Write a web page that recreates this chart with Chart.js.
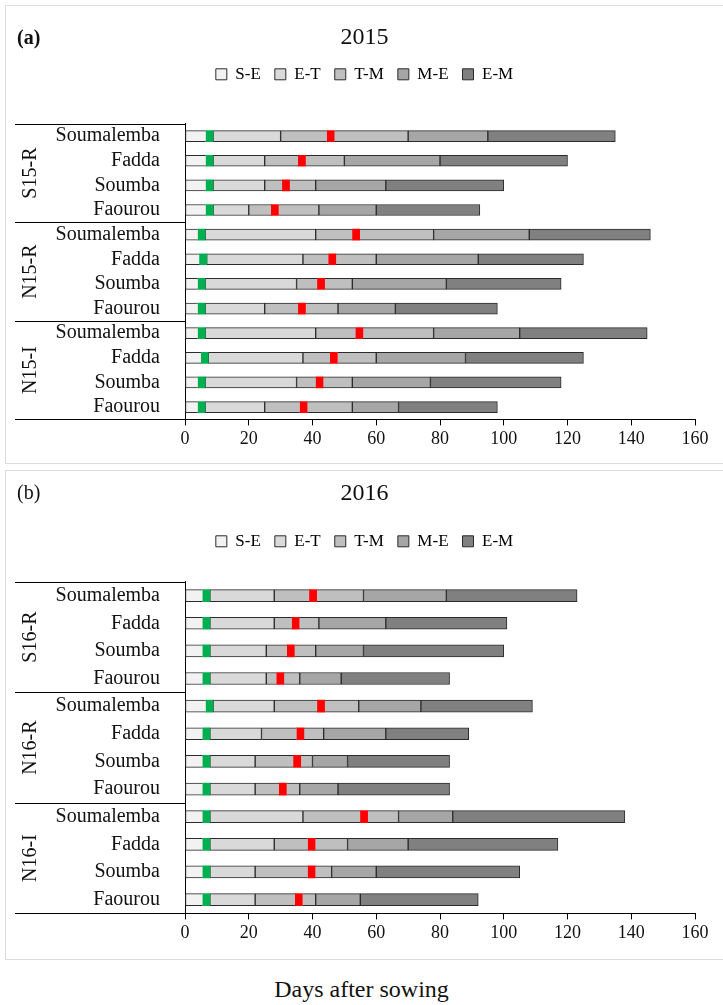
<!DOCTYPE html>
<html>
<head>
<meta charset="utf-8">
<script src="https://cdn.jsdelivr.net/npm/chart.js@4.4.1/dist/chart.umd.min.js"></script>
<style>
  body { margin: 0; background: #fff; width: 723px; height: 1005px; position: relative; overflow: hidden;
         font-family: 'Liberation Serif', serif; color: #111; }
  .panel { position: absolute; left: 5px; width: 718px; border: 1px solid #dcdcdc; border-right: none; }
  #panelA { top: 5px; height: 457px; }
  #panelB { top: 470px; height: 488px; }
  .panel canvas { position: absolute; left: 0; top: 0; }
  .tag { position: absolute; left: 11px; font-size: 20px; }
  #xTitle { position: absolute; top: 976px; left: 0; width: 723px; text-align: center; font-size: 24px; }
</style>
</head>
<body>
<div class="panel" id="panelA">
  <canvas id="chart2015" width="717" height="457"></canvas>
  <div class="tag" style="top:20px;font-weight:bold">(a)</div>
</div>
<div class="panel" id="panelB">
  <canvas id="chart2016" width="717" height="488"></canvas>
  <div class="tag" style="top:10px">(b)</div>
</div>
<div id="xTitle">Days after sowing</div>

<script>
// width of the green (emergence) and red markers, in days
const MARK = 2.3;

const sites = ['Soumalemba', 'Fadda', 'Soumba', 'Faourou'];
const phases = ['S-E', 'E-T', 'T-M', 'M-E', 'E-M'];
const phaseColors = ['#f2f2f2', '#d9d9d9', '#bfbfbf', '#a6a6a6', '#808080'];
const dayTicks = [0, 20, 40, 60, 80, 100, 120, 140, 160];

// 2015 - phase durations (days), red marker day
const groups2015 = ['S15-R', 'N15-R', 'N15-I'];
const se2015 = [6.5, 6.5, 6.5, 6.5, 4, 4.5, 4, 4, 4, 5, 4, 4];
const et2015 = [23.5, 18.5, 18.5, 13.5, 37, 32.5, 31, 21, 37, 32, 31, 21];
const tm2015 = [40, 25, 16, 22, 37, 23, 17.5, 23, 37, 23, 17.5, 27.5];
const me2015 = [25, 30, 22, 18, 30, 32, 29.5, 18, 27, 28, 24.5, 14.5];
const em2015 = [40, 40, 37, 32.5, 38, 33, 36, 32, 40, 37, 41, 31];
const red2015 = [44.5, 35.5, 30.5, 27, 52.5, 45, 41.5, 35.5, 53.5, 45.5, 41, 36];

// 2016
const groups2016 = ['S16-R', 'N16-R', 'N16-I'];
const se2016 = [5.5, 5.5, 5.5, 5.5, 6.5, 5.5, 5.5, 5.5, 5.5, 5.5, 5.5, 5.5];
const et2016 = [22.5, 22.5, 20, 20, 21.5, 18.5, 16.5, 16.5, 31.5, 22.5, 16.5, 16.5];
const tm2016 = [28, 14, 15.5, 10.5, 26.5, 19.5, 18, 14, 30, 23, 24, 19];
const me2016 = [26, 21, 15, 13, 19.5, 19.5, 11, 12, 17, 19, 14, 14];
const em2016 = [41, 38, 44, 34, 35, 26, 32, 35, 54, 47, 45, 37];
const red2016 = [39, 33.5, 32, 28.7, 41.5, 35, 34, 29.5, 55, 38.5, 38.5, 34.5];

Chart.defaults.font.family = "'Liberation Serif', serif";
Chart.defaults.color = '#111';

// push the plot area down below the legend
function legendGap(gap) {
  return {
    id: 'legendGap',
    beforeInit(chart) {
      const fit = chart.legend.fit;
      chart.legend.fit = function () {
        fit.call(this);
        this.height += gap;
      };
    }
  };
}

// group brackets + rotated group names left of the site labels
function groupBrackets(groups) {
  return {
    id: 'groupBrackets',
    afterDraw(chart) {
      const { ctx, chartArea, scales: { y } } = chart;
      const per = sites.length;
      const step = y.getPixelForValue(1) - y.getPixelForValue(0);
      const x0 = 9;
      ctx.save();
      ctx.strokeStyle = '#000';
      ctx.lineWidth = 1;
      ctx.fillStyle = '#111';
      ctx.font = "20px 'Liberation Serif'";
      ctx.textAlign = 'center';
      ctx.textBaseline = 'middle';
      groups.forEach((g, gi) => {
        const top = y.getPixelForValue(gi * per) - step / 2;
        const bottom = y.getPixelForValue(gi * per + per - 1) + step / 2;
        [top, bottom].forEach(py => {
          const yy = Math.round(py) + 0.5;
          ctx.beginPath();
          ctx.moveTo(x0, yy);
          ctx.lineTo(chartArea.left, yy);
          ctx.stroke();
        });
        ctx.save();
        ctx.translate(25, (top + bottom) / 2);
        ctx.rotate(-Math.PI / 2);
        ctx.fillText(g, 0, 0);
        ctx.restore();
      });
      ctx.restore();
    }
  };
}

function makeChart(id, year, groups, se, et, tm, me, em, red, lay) {
  const labels = groups.flatMap(() => sites);
  const mark = labels.map(() => MARK);
  const etRest = et.map(v => v - MARK);
  const tmA = red.map((r, i) => r - se[i] - et[i]);
  const tmB = tm.map((v, i) => v - tmA[i] - MARK);

  const all = { top: 1, bottom: 1, left: 1, right: 1 };
  const seg = (label, data, color, bw) => ({
    label, data, backgroundColor: color, borderColor: '#2b2b2b',
    borderWidth: bw, borderSkipped: false
  });

  return new Chart(document.getElementById(id), {
    type: 'bar',
    data: {
      labels,
      datasets: [
        seg('S-E', se, phaseColors[0], { top: 1, bottom: 1, left: 1, right: 0 }),
        seg('emergence', mark, '#00b050', 0),
        seg('E-T', etRest, phaseColors[1], all),
        seg('T-M', tmA, phaseColors[2], { top: 1, bottom: 1, left: 1, right: 0 }),
        seg('marker', mark, '#ff0000', 0),
        seg('T-M ', tmB, phaseColors[2], { top: 1, bottom: 1, left: 0, right: 1 }),
        seg('M-E', me, phaseColors[3], all),
        seg('E-M', em, phaseColors[4], all)
      ]
    },
    options: {
      indexAxis: 'y',
      responsive: false,
      animation: false,
      barThickness: lay.bar,
      layout: { padding: { left: 28, right: 28, top: 0, bottom: lay.bottom } },
      scales: {
        x: {
          stacked: true,
          min: dayTicks[0],
          max: dayTicks[dayTicks.length - 1],
          ticks: { stepSize: dayTicks[1] - dayTicks[0], font: { size: 18 }, padding: 3, color: '#111' },
          grid: { drawOnChartArea: false, drawTicks: true, tickLength: 6, color: '#000' },
          border: { display: true, color: '#000', width: 1 }
        },
        y: {
          stacked: true,
          ticks: { font: { size: 20 }, padding: 17, color: '#111', autoSkip: false },
          grid: { display: false },
          border: { display: true, color: '#000', width: 1 },
          afterFit(scale) { scale.width = 151; }
        }
      },
      plugins: {
        title: {
          display: true,
          text: year,
          font: { size: 24, weight: 'normal' },
          color: '#111',
          padding: { top: lay.titleTop, bottom: lay.titleBottom }
        },
        legend: {
          position: 'top',
          labels: {
            boxWidth: 11,
            boxHeight: 11,
            padding: 14,
            font: { size: 17 },
            color: '#111',
            generateLabels: () => phases.map((p, i) => ({
              text: p, fillStyle: phaseColors[i], strokeStyle: '#2b2b2b',
              lineWidth: 1, hidden: false, datasetIndex: i
            }))
          }
        },
        tooltip: { enabled: false }
      }
    },
    plugins: [legendGap(lay.gap), groupBrackets(groups)]
  });
}

makeChart('chart2015', '2015', groups2015, se2015, et2015, tm2015, me2015, em2015, red2015,
  { bar: 11, bottom: 10, titleTop: 17, titleBottom: 0, gap: 31 });
makeChart('chart2016', '2016', groups2016, se2016, et2016, tm2016, me2016, em2016, red2016,
  { bar: 12, bottom: 12, titleTop: 8, titleBottom: 11, gap: 22 });
</script>
</body>
</html>
